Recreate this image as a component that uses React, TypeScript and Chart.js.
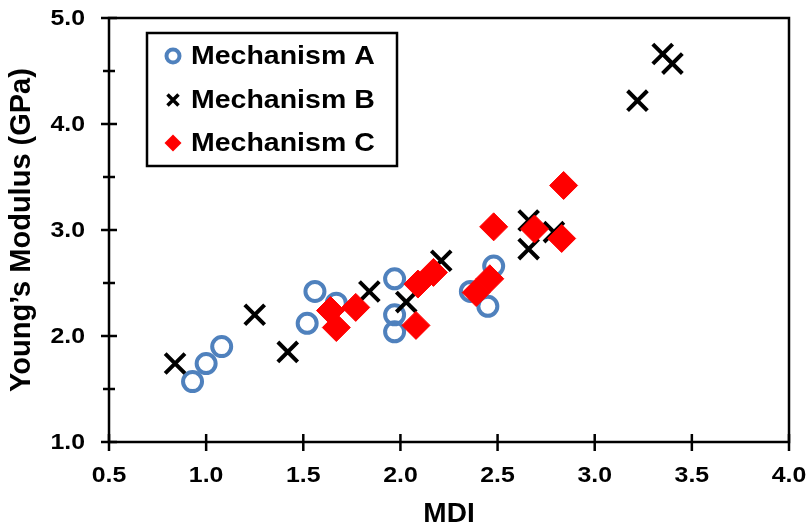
import React, { useEffect, useRef } from "react";
import { Chart, registerables } from "chart.js";

Chart.register(...registerables);

const seriesNames = ["Mechanism A", "Mechanism B", "Mechanism C"];

const mechAX = [0.93, 1.0, 1.08, 1.52, 1.56, 1.67, 1.97, 1.97, 1.97, 2.36, 2.45, 2.48];
const mechAY = [1.57, 1.74, 1.9, 2.12, 2.42, 2.31, 2.54, 2.2, 2.04, 2.42, 2.28, 2.66];

const mechBX = [0.84, 1.25, 1.42, 1.84, 2.03, 2.21, 2.66, 2.66, 2.79, 3.22, 3.35, 3.4];
const mechBY = [1.74, 2.2, 1.85, 2.42, 2.32, 2.71, 3.09, 2.82, 2.98, 4.22, 4.66, 4.57];

const mechCX = [1.64, 1.67, 1.77, 2.08, 2.09, 2.17, 2.39, 2.46, 2.48, 2.69, 2.83, 2.84];
const mechCY = [2.24, 2.08, 2.27, 2.1, 2.49, 2.6, 2.41, 2.54, 3.03, 3.01, 2.92, 3.42];

const xTicks = [0.5, 1.0, 1.5, 2.0, 2.5, 3.0, 3.5, 4.0];
const yTicks = [1.0, 2.0, 3.0, 4.0, 5.0];
const yMinorTicks = [1.5, 2.5, 3.5, 4.5];

const xTitle = "MDI";
const yTitle = "Young\u2019s Modulus (GPa)";

const BLUE = "#4F81BD";
const RED = "#FF0000";
const FONT = "'Liberation Sans', Arial, sans-serif";

const toPts = (xs: number[], ys: number[]) => xs.map((x, i) => ({ x, y: ys[i] }));

function stretchedText(
  ctx: CanvasRenderingContext2D,
  text: string,
  x: number,
  y: number,
  align: CanvasTextAlign,
  sx: number
) {
  ctx.save();
  ctx.translate(x, y);
  ctx.scale(sx, 1);
  ctx.textAlign = align;
  ctx.textBaseline = "middle";
  ctx.fillText(text, 0, 0);
  ctx.restore();
}

function drawMarker(ctx: CanvasRenderingContext2D, kind: number, x: number, y: number) {
  ctx.save();
  if (kind === 0) {
    ctx.strokeStyle = BLUE;
    ctx.lineWidth = 4;
    ctx.beginPath();
    ctx.arc(x, y, 6.5, 0, Math.PI * 2);
    ctx.stroke();
  } else if (kind === 1) {
    ctx.strokeStyle = "#000";
    ctx.lineWidth = 3.5;
    const d = 5.5;
    ctx.beginPath();
    ctx.moveTo(x - d, y - d);
    ctx.lineTo(x + d, y + d);
    ctx.moveTo(x + d, y - d);
    ctx.lineTo(x - d, y + d);
    ctx.stroke();
  } else {
    ctx.fillStyle = RED;
    const r = 8.5;
    ctx.beginPath();
    ctx.moveTo(x - r, y);
    ctx.lineTo(x, y - r);
    ctx.lineTo(x + r, y);
    ctx.lineTo(x, y + r);
    ctx.closePath();
    ctx.fill();
  }
  ctx.restore();
}

const framePlugin = {
  id: "frame",
  afterDraw(chart: any) {
    const { ctx, chartArea } = chart;
    const { left, right, top, bottom } = chartArea;
    const xs = chart.scales.x;
    const ys = chart.scales.y;
    ctx.save();
    ctx.strokeStyle = "#000";
    ctx.lineWidth = 2.5;
    ctx.strokeRect(left, top, right - left, bottom - top);
    ctx.beginPath();
    xTicks.forEach((v) => {
      const px = xs.getPixelForValue(v);
      ctx.moveTo(px, bottom - 8);
      ctx.lineTo(px, bottom + 9);
    });
    yTicks.forEach((v) => {
      const py = ys.getPixelForValue(v);
      ctx.moveTo(left - 8, py);
      ctx.lineTo(left + 8, py);
    });
    yMinorTicks.forEach((v) => {
      const py = ys.getPixelForValue(v);
      ctx.moveTo(left - 6, py);
      ctx.lineTo(left + 6, py);
    });
    ctx.stroke();

    // tick labels
    ctx.fillStyle = "#000";
    ctx.font = `bold 22px ${FONT}`;
    xTicks.forEach((v) => {
      stretchedText(ctx, v.toFixed(1), xs.getPixelForValue(v), bottom + 34, "center", 1.13);
    });
    yTicks.forEach((v) => {
      stretchedText(ctx, v.toFixed(1), left - 24, ys.getPixelForValue(v) + 1, "right", 1.13);
    });

    // legend
    const bx = 147, by = 33, bw = 250, bh = 133;
    ctx.fillStyle = "#fff";
    ctx.fillRect(bx, by, bw, bh);
    ctx.lineWidth = 2.5;
    ctx.strokeRect(bx, by, bw, bh);
    const rows = [56, 100, 143];
    ctx.font = `bold 25px ${FONT}`;
    seriesNames.forEach((name, i) => {
      drawMarker(ctx, i, 173, rows[i]);
      ctx.fillStyle = "#000";
      stretchedText(ctx, name, 191, rows[i] + 1, "left", 1.14);
    });
    ctx.restore();
  },
};

export default function App() {
  const ref = useRef<HTMLCanvasElement | null>(null);
  useEffect(() => {
    document.body.style.margin = "0";
    const canvas = ref.current;
    if (!canvas) return;
    const chart = new Chart(canvas, {
      type: "scatter",
      data: {
        datasets: [
          {
            label: seriesNames[0],
            data: toPts(mechAX, mechAY),
            pointStyle: "circle",
            pointRadius: 9.5,
            pointBorderWidth: 4,
            borderColor: BLUE,
            backgroundColor: "rgba(0,0,0,0)",
            order: 3,
          },
          {
            label: seriesNames[1],
            data: toPts(mechBX, mechBY),
            pointStyle: "crossRot",
            pointRadius: 14,
            pointBorderWidth: 4,
            borderColor: "#000",
            backgroundColor: "#000",
            order: 2,
          },
          {
            label: seriesNames[2],
            data: toPts(mechCX, mechCY),
            pointStyle: "rectRot",
            pointRadius: 14,
            pointBorderWidth: 1,
            borderColor: RED,
            backgroundColor: RED,
            order: 1,
          },
        ],
      },
      options: {
        responsive: false,
        animation: false,
        layout: { padding: { left: 0, top: 17, right: 20, bottom: 0 } },
        plugins: {
          legend: { display: false },
          tooltip: { enabled: false },
        },
        scales: {
          x: {
            type: "linear",
            min: 0.5,
            max: 4.0,
            afterBuildTicks: (s: any) => {
              s.ticks = xTicks.map((v) => ({ value: v }));
            },
            afterFit: (s: any) => {
              s.height = 89;
              s.paddingLeft = 0;
              s.paddingRight = 0;
            },
            grid: { display: false },
            border: { display: false },
            ticks: { display: false },
            title: {
              display: true,
              text: xTitle,
              color: "#000",
              padding: { top: 0, bottom: 0 },
              font: { family: FONT, size: 28, weight: "bold" },
            },
          },
          y: {
            type: "linear",
            min: 1.0,
            max: 5.0,
            afterBuildTicks: (s: any) => {
              s.ticks = yTicks.map((v) => ({ value: v }));
            },
            afterFit: (s: any) => {
              s.width = 109;
              s.paddingTop = 0;
              s.paddingBottom = 0;
            },
            grid: { display: false },
            border: { display: false },
            ticks: { display: false },
            title: {
              display: true,
              text: yTitle,
              color: "#000",
              padding: { top: 5, bottom: 0 },
              font: { family: FONT, size: 29, weight: "bold" },
            },
          },
        },
      },
      plugins: [framePlugin],
    });
    return () => chart.destroy();
  }, []);
  return <canvas ref={ref} width={809} height={531} style={{ display: "block" }} />;
}
